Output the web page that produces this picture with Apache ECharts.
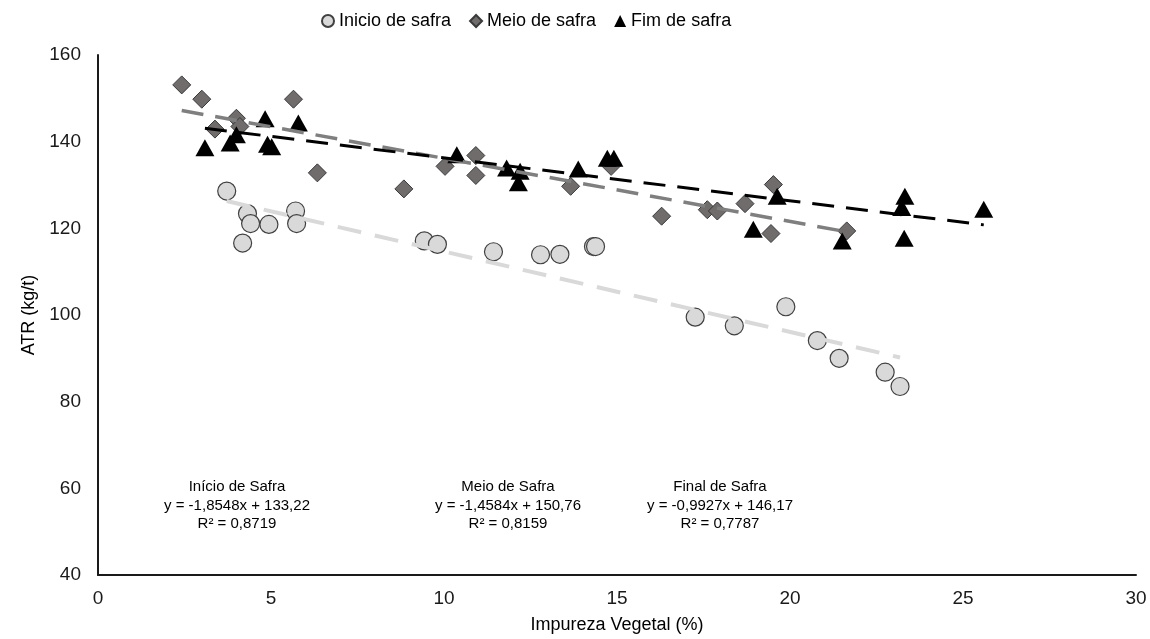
<!DOCTYPE html>
<html>
<head>
<meta charset="utf-8">
<script src="https://cdn.jsdelivr.net/npm/echarts@6/dist/echarts.min.js"></script>
<style>
html, body { margin: 0; padding: 0; background: #fff; }
#chart { width: 1150px; height: 639px; }
</style>
</head>
<body>
<div id="chart"></div>
<script>
// pontos: [impureza vegetal %, ATR kg/t]
var inicio = [
	[3.72, 128.6], [4.32, 123.4], [4.41, 121.1], [4.94, 120.9], [5.71, 124.0], [5.74, 121.1], [4.18, 116.6],
	[9.43, 117.1], [9.81, 116.3], [11.43, 114.6], [12.79, 113.9], [13.35, 114.0], [14.32, 115.8], [14.38, 115.8],
	[17.26, 99.5], [18.39, 97.5], [19.88, 101.9], [20.79, 94.1], [21.42, 90.0], [22.75, 86.8], [23.18, 83.5]
];
var meio = [
	[2.42, 153.1], [3.0, 149.8], [5.65, 149.8], [4.0, 145.4], [3.38, 142.9], [4.1, 143.5], [6.34, 132.8],
	[8.84, 129.1], [10.03, 134.3], [10.92, 136.8], [10.92, 132.2], [13.66, 129.7], [14.83, 134.3], [16.29, 122.8],
	[17.61, 124.3], [17.9, 124.0], [18.7, 125.7], [19.52, 130.1], [19.45, 118.8], [21.64, 119.4]
];
var fim = [
	[3.09, 138.6], [3.82, 139.7], [4.0, 141.6], [4.83, 145.3], [4.9, 139.4], [5.02, 138.8], [5.79, 144.3],
	[10.37, 137.0], [11.81, 133.9], [12.2, 133.2], [12.15, 130.5], [13.88, 133.7], [14.72, 136.2], [14.91, 136.2],
	[19.63, 127.4], [18.94, 119.8], [21.51, 117.1], [23.32, 127.4], [23.23, 124.8], [23.3, 117.7], [25.6, 124.4]
];
// linhas de tendencia (pontas)
var trendInicio = [[3.72, 126.3], [23.18, 90.2]];
var trendMeio = [[2.42, 147.2], [21.64, 119.2]];
var trendFim = [[3.09, 143.1], [25.6, 120.8]];

var seriesNames = ['Inicio de safra', 'Meio de safra', 'Fim de safra'];
var equations = [
	['Início de Safra', 'y = -1,8548x + 133,22', 'R² = 0,8719'],
	['Meio de Safra', 'y = -1,4584x + 150,76', 'R² = 0,8159'],
	['Final de Safra', 'y = -0,9927x + 146,17', 'R² = 0,7787']
];
var eqCenters = [237, 508, 720];

var font = '"Liberation Sans", Arial, sans-serif';
var narrow = '"Liberation Sans Narrow", "Liberation Sans", Arial, sans-serif';

function trendSeries(data, color, width, dash) {
	return {
		name: '',
		type: 'line',
		data: data,
		symbol: 'none',
		silent: true,
		z: 5,
		lineStyle: { color: color, width: width, type: dash }
	};
}

var graphics = [];
for (var i = 0; i < equations.length; i++) {
	graphics.push({
		type: 'text',
		x: eqCenters[i],
		y: 478,
		style: {
			text: equations[i].join('\n'),
			align: 'center',
			verticalAlign: 'top',
			font: '15px ' + narrow,
			lineHeight: 18.5,
			fill: '#000'
		}
	});
}

var mychart = echarts.init(document.getElementById('chart'));
var option = {
	backgroundColor: '#fff',
	animation: false,
	textStyle: { fontFamily: font },
	legend: {
		top: 7,
		left: 316,
		data: seriesNames,
		itemWidth: 12,
		itemHeight: 12,
		itemGap: 18,
		textStyle: { fontSize: 18, color: '#000', fontFamily: font }
	},
	grid: { left: 98, right: 14, top: 55, bottom: 62 },
	xAxis: {
		type: 'value',
		min: 0,
		max: 30,
		interval: 5,
		name: 'Impureza Vegetal (%)',
		nameLocation: 'middle',
		nameGap: 41,
		nameTextStyle: { fontSize: 18, color: '#000', fontFamily: font },
		axisLine: { lineStyle: { color: '#1a1a1a', width: 2 } },
		axisTick: { show: false },
		splitLine: { show: false },
		axisLabel: { fontSize: 19, color: '#1a1a1a', margin: 14, fontFamily: font }
	},
	yAxis: {
		type: 'value',
		min: 40,
		max: 160,
		interval: 20,
		name: 'ATR (kg/t)',
		nameLocation: 'middle',
		nameGap: 55,
		nameTextStyle: { fontSize: 18, color: '#000', fontFamily: font },
		axisLine: { show: true, lineStyle: { color: '#1a1a1a', width: 2 } },
		axisTick: { show: false },
		splitLine: { show: false },
		axisLabel: { fontSize: 19, color: '#1a1a1a', margin: 17, fontFamily: font }
	},
	graphic: graphics,
	series: [
		{
			name: seriesNames[0],
			type: 'scatter',
			symbol: 'circle',
			symbolSize: 18,
			data: inicio,
			itemStyle: { color: '#d9d9d9', borderColor: '#404040', borderWidth: 1.2, opacity: 1 }
		},
		{
			name: seriesNames[1],
			type: 'scatter',
			symbol: 'diamond',
			symbolSize: 18,
			data: meio,
			itemStyle: { color: '#706c6c', borderColor: '#3a3a3a', borderWidth: 1, opacity: 1 }
		},
		{
			name: seriesNames[2],
			type: 'scatter',
			symbol: 'triangle',
			symbolSize: [19, 17],
			data: fim,
			itemStyle: { color: '#000', opacity: 1 }
		},
		trendSeries(trendInicio, '#d9d9d9', 4, [24, 14]),
		trendSeries(trendMeio, '#7f7f7f', 3.5, [22, 12]),
		trendSeries(trendFim, '#000', 3, [22, 12])
	]
};
mychart.setOption(option);
</script>
</body>
</html>
